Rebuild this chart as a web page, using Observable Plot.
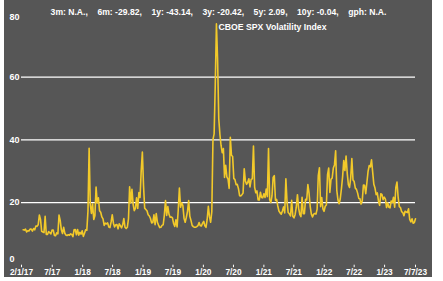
<!DOCTYPE html>
<html>
<head>
<meta charset="utf-8">
<script src="https://cdn.jsdelivr.net/npm/d3@7"></script>
<script src="https://cdn.jsdelivr.net/npm/@observablehq/plot@0.6"></script>
<style>
  html, body { margin: 0; padding: 0; background: #ffffff; }
  #chart svg { display: block; margin-left: 4px; }
  #chart svg text { font-weight: bold; }
</style>
</head>
<body>
<div id="chart"></div>
<script>
// Weekly VIX readings (Fridays), starting 2017-01-06
const seriesStart = "2017-01-06";
const vix2017 = [11.3, 11.2, 11.5, 10.6, 11.0, 10.9, 11.5, 11.5, 10.9, 11.7, 11.3, 12.5, 12.4, 12.9, 16.0, 14.6, 10.8, 10.6, 10.4, 15.6, 9.8, 9.8, 10.7, 10.4, 10.0, 11.2, 11.2, 9.5, 9.4, 10.3, 10.0, 16.0, 14.3, 11.3, 10.1, 12.1, 10.2, 9.6, 9.5, 9.7, 9.6, 10.0, 9.8, 9.1, 11.3, 11.4, 9.7, 11.4, 9.6, 10.5, 9.9, 11.0];
const vix2018 = [9.2, 10.2, 11.3, 11.1, 17.3, 37.3, 19.5, 16.5, 19.6, 14.6, 15.8, 24.9, 19.9, 21.5, 17.4, 16.9, 15.4, 14.8, 12.7, 13.4, 13.2, 13.5, 12.2, 12.0, 13.8, 16.1, 13.4, 12.2, 12.9, 13.0, 11.6, 13.2, 12.6, 11.9, 12.9, 14.9, 12.1, 11.7, 12.1, 14.8, 25.0, 19.9, 24.2, 19.5, 17.4, 18.1, 21.5, 18.1, 23.2, 21.6, 30.1, 36.1];
const vix2019 = [25.4, 18.2, 17.8, 17.4, 16.1, 15.7, 14.9, 13.5, 13.6, 16.1, 12.9, 16.5, 13.7, 12.8, 12.0, 12.1, 12.7, 12.9, 16.0, 20.6, 15.9, 18.7, 16.3, 15.3, 15.4, 15.1, 13.3, 12.4, 14.5, 12.2, 17.6, 24.6, 18.5, 19.9, 19.0, 15.0, 13.7, 15.3, 17.2, 20.6, 15.6, 14.3, 12.7, 12.3, 12.1, 12.1, 12.3, 12.6, 13.6, 12.6, 12.5, 13.4];
const vix2020 = [14.0, 12.6, 12.1, 14.6, 18.8, 15.5, 13.7, 17.1, 40.1, 41.9, 57.8, 77.0, 65.5, 46.8, 41.7, 38.2, 35.9, 37.2, 28.0, 31.9, 28.2, 27.5, 24.5, 40.8, 35.1, 34.7, 27.7, 27.3, 25.7, 25.8, 24.5, 22.2, 22.1, 22.5, 23.0, 30.8, 26.9, 25.8, 26.4, 27.6, 25.0, 27.4, 27.6, 38.0, 24.9, 23.1, 23.7, 20.8, 20.8, 23.3, 21.6, 21.5];
const vix2021 = [22.8, 21.6, 24.3, 21.9, 37.2, 20.9, 20.0, 22.1, 28.0, 28.6, 20.7, 21.0, 18.9, 17.3, 16.7, 16.3, 17.3, 18.6, 16.7, 27.6, 20.2, 16.8, 16.4, 15.7, 20.7, 15.6, 15.1, 16.2, 18.5, 22.5, 18.2, 16.2, 15.5, 21.7, 16.4, 16.4, 21.0, 20.8, 25.7, 23.1, 18.8, 16.3, 15.4, 16.3, 16.5, 16.3, 17.9, 28.6, 31.1, 18.7, 21.6, 18.0, 17.2];
const vix2022 = [18.8, 19.2, 28.9, 31.0, 23.2, 27.4, 27.8, 31.0, 32.0, 36.5, 23.9, 20.8, 19.6, 21.2, 24.4, 28.2, 33.4, 30.2, 34.8, 29.4, 25.7, 24.8, 27.8, 34.0, 27.2, 26.7, 24.6, 24.2, 23.0, 21.3, 21.2, 19.5, 20.6, 25.6, 25.5, 22.8, 26.3, 29.9, 31.8, 31.4, 33.6, 29.7, 25.8, 24.6, 22.5, 23.1, 20.5, 19.1, 22.8, 22.6, 20.9, 21.7];
const vix2023 = [21.1, 18.4, 19.9, 18.5, 18.3, 20.5, 20.0, 21.7, 18.5, 24.8, 26.5, 21.7, 18.7, 18.4, 17.1, 16.8, 15.8, 17.2, 17.0, 16.8, 18.0, 14.6, 13.8, 14.8, 13.4, 13.6, 14.8];

const xDomain = ["2016-12-27", "2023-07-07"];
const xTickDates = ["2016-12-27", "2017-07-01", "2018-01-01", "2018-07-01", "2019-01-01", "2019-07-01", "2020-01-01", "2020-07-01", "2021-01-01", "2021-07-01", "2022-01-01", "2022-07-01", "2023-01-01", "2023-07-07"];
const xTickLabels = ["2/1/17", "7/17", "1/18", "7/18", "1/19", "7/19", "1/20", "7/20", "1/21", "7/21", "1/22", "7/22", "1/23", "7/7/23"];
const yGrid = [20, 40, 60];
const yLabelsMid = [20, 40, 60];
const yLabelTop = [80];
const yLabelBottom = [0];
const title = "CBOE SPX Volatility Index";
const statsText = ["3m: N.A.,", "6m: -29.82,", "1y: -43.14,", "3y: -20.42,", "5y: 2.09,", "10y: -0.04,", "gph: N.A."];

const values = [...vix2017, ...vix2018, ...vix2019, ...vix2020, ...vix2021, ...vix2022, ...vix2023];
const start = new Date(seriesStart);
const data = values.map((v, i) => ({date: d3.utcDay.offset(start, 7 * i), vix: v}));
const tickDates = xTickDates.map(s => new Date(s));
const labelMap = new Map(tickDates.map((d, i) => [+d, xTickLabels[i]]));
const gap = " \u00a0\u00a0\u00a0";

const font = "'Liberation Sans', Arial, sans-serif";

const chart = Plot.plot({
  width: 428,
  height: 277,
  marginLeft: 17,
  marginRight: 17,
  marginTop: 14,
  marginBottom: 12.3,
  style: {background: "#565656", color: "#ffffff", fontFamily: font, overflow: "visible"},
  x: {type: "utc", domain: xDomain.map(s => new Date(s))},
  y: {domain: [0, 80], axis: null},
  marks: [
    Plot.ruleY(yGrid, {stroke: "#ffffff", strokeWidth: 1.2}),
    Plot.lineY(data, {x: "date", y: "vix", stroke: "#f2c92a", strokeWidth: 1.6}),
    Plot.axisX({ticks: tickDates, tickFormat: d => labelMap.get(+d), tickSize: 2.5, tickPadding: 1.5, fontSize: 8.3, label: null}),
    Plot.text(yLabelsMid, {y: d => d, text: d => String(d), frameAnchor: "left", textAnchor: "start", dx: -12, fill: "#ffffff", fontSize: 9}),
    Plot.text(yLabelTop, {y: d => d, text: d => String(d), frameAnchor: "left", textAnchor: "start", dx: -12, dy: 3, fill: "#ffffff", fontSize: 9}),
    Plot.text(yLabelBottom, {y: d => d, text: d => String(d), frameAnchor: "left", textAnchor: "start", dx: -12, dy: -6.5, fill: "#ffffff", fontSize: 9}),
    Plot.text([statsText.join(gap)], {frameAnchor: "top", textAnchor: "middle", dy: -6, fill: "#ffffff", fontSize: 8.6}),
    Plot.text([title], {frameAnchor: "top", textAnchor: "start", dy: 9, fill: "#ffffff", fontSize: 8.7})
  ]
});
document.getElementById("chart").append(chart);
</script>
</body>
</html>
